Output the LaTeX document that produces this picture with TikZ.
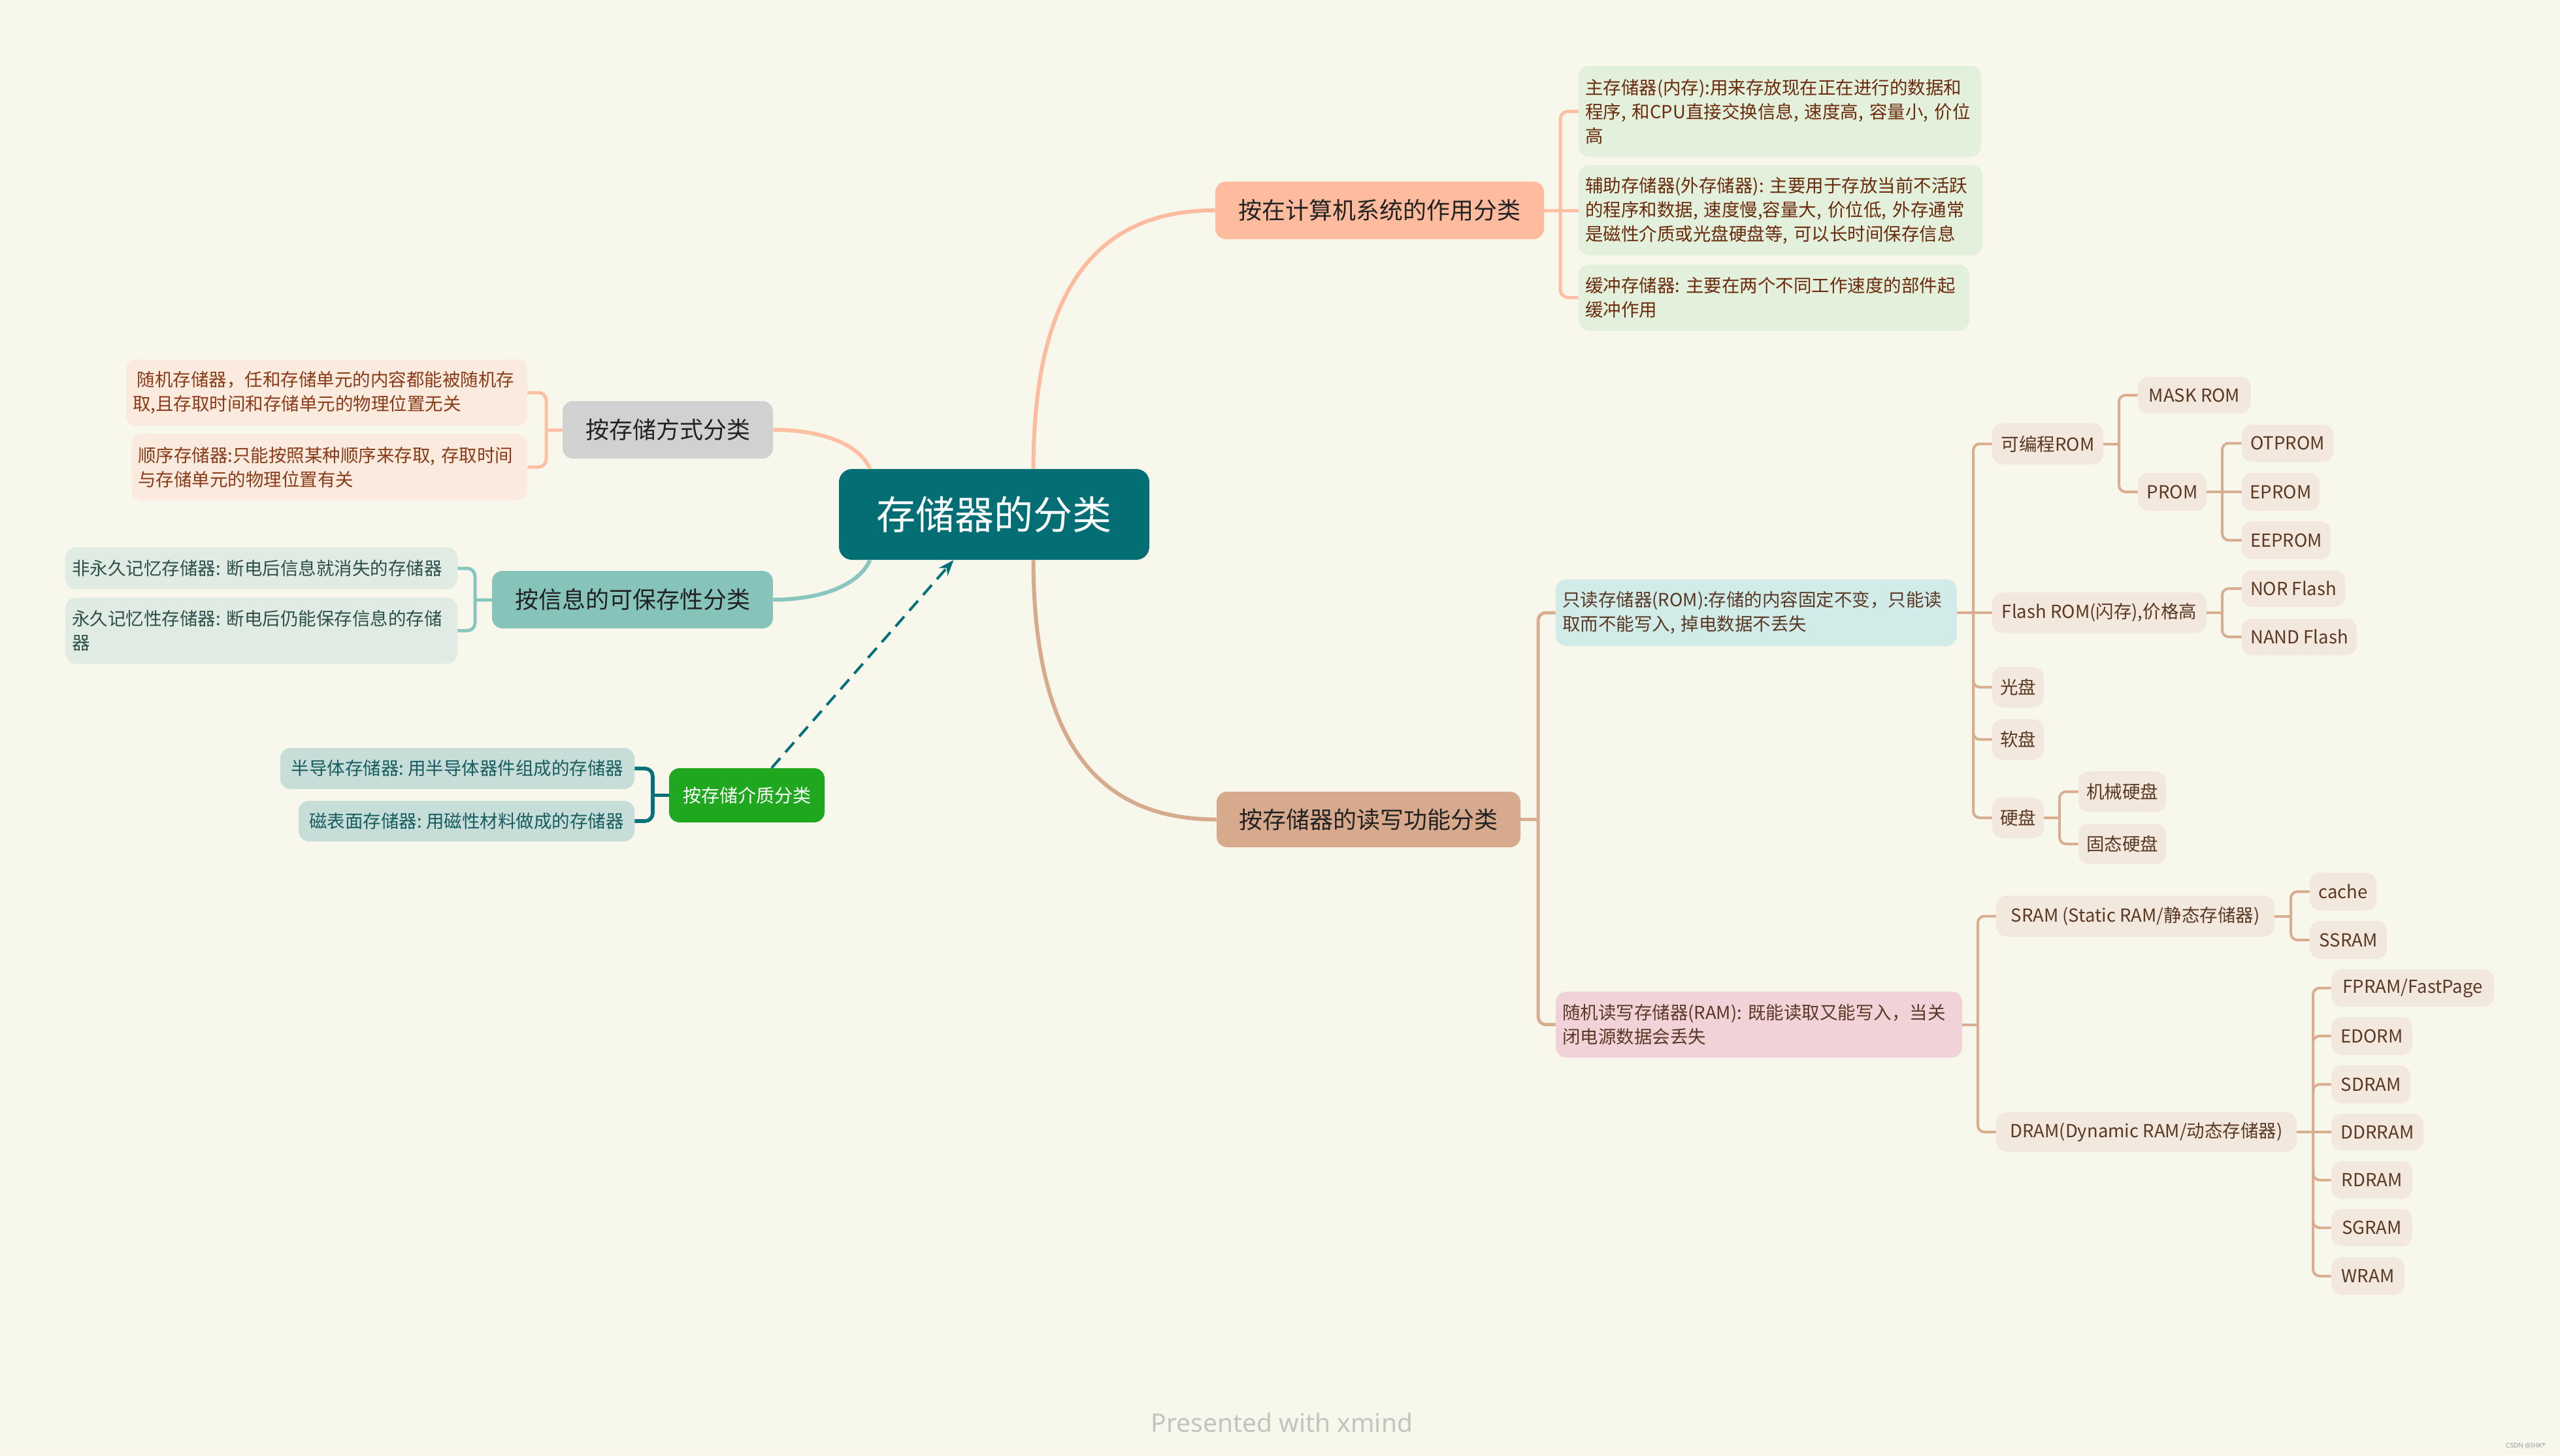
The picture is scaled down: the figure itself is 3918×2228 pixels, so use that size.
\documentclass[tikz,border=0pt]{standalone}
\usepackage{fontspec}
\setmainfont{Noto Sans CJK SC}
\newfontfamily\wmfont{Noto Sans}
\usetikzlibrary{arrows.meta}
\definecolor{bgc}{HTML}{F8F7EC}
\definecolor{cenc}{HTML}{046E75}
\definecolor{brAc}{HTML}{FFBB9E}
\definecolor{brBc}{HTML}{D1D1D1}
\definecolor{brCc}{HTML}{85C3BB}
\definecolor{brDc}{HTML}{1FA71F}
\definecolor{brEc}{HTML}{D8AA8D}
\definecolor{lnAc}{HTML}{FFBFA3}
\definecolor{lnCc}{HTML}{88C6BF}
\definecolor{lnDc}{HTML}{04707A}
\definecolor{lnEc}{HTML}{D8AD90}
\definecolor{lfA}{HTML}{E2F0DC}
\definecolor{txA}{HTML}{6B2A0C}
\definecolor{lfB}{HTML}{FBEBDF}
\definecolor{txB}{HTML}{8B3A17}
\definecolor{lfC}{HTML}{E0EBE4}
\definecolor{txC}{HTML}{2C4F4A}
\definecolor{lfD}{HTML}{C6DDD8}
\definecolor{txD}{HTML}{175C61}
\definecolor{lfROM}{HTML}{D0EBE8}
\definecolor{lfRAM}{HTML}{F1D2D8}
\definecolor{lfE}{HTML}{F2E8DD}
\definecolor{txE}{HTML}{5A3823}
\definecolor{brtext}{HTML}{222222}
\definecolor{wmc}{HTML}{C4C4BC}
\newcommand\mmbox[7]{\node[#6, minimum width={(#4-#2)*0.5pt}, minimum height={(#5-#3)*0.5pt}] (#1) at ({(#2+#4)/2},{(#3+#5)/2}) {#7};}
\newcommand\mmleaf[7]{\node[#6, text width={(#4-#2-20)*0.5pt}, minimum width={(#4-#2)*0.5pt}, minimum height={(#5-#3)*0.5pt}] (#1) at ({(#2+#4)/2},{(#3+#5)/2}) {#7};}
\tikzset{
  cen/.style={fill=cenc, rounded corners=10pt, text=white, inner sep=0pt, font=\fontsize{30}{36}\selectfont},
  topic/.style={rounded corners=8pt, inner sep=0pt, text=brtext, font=\fontsize{18}{22}\selectfont},
  leaf/.style={rounded corners=8pt, inner sep=0pt, align=left, font=\fontsize{13.75}{18.5}\selectfont},
  sub/.style={rounded corners=8pt, inner sep=0pt, fill=lfE, text=txE, font=\fontsize{13.75}{18}\selectfont},
  lnA/.style={draw=lnAc, line width=2.5pt, rounded corners=6pt},
  lnC/.style={draw=lnCc, line width=2.5pt, rounded corners=6pt},
  lnD/.style={draw=lnDc, line width=2.8pt, rounded corners=6pt},
  lnE/.style={draw=lnEc, line width=2.5pt, rounded corners=6pt},
  lnEs/.style={draw=lnEc, line width=2pt, rounded corners=5pt},
  curve/.style={line width=3pt},
}
\begin{document}
\begin{tikzpicture}[x=0.5pt,y=-0.5pt]
\fill[bgc] (0,0) rectangle (3918,2228);
\useasboundingbox (0,0) rectangle (3918,2228);

% central
\mmbox{cen}{1284}{718}{1759}{857}{cen}{存储器的分类}

% main topics
\mmbox{A}{1860}{278}{2363}{366}{topic, fill=brAc}{按在计算机系统的作用分类}
\mmbox{B}{861}{614}{1183}{702}{topic, fill=brBc}{按存储方式分类}
\mmbox{C}{753}{874}{1183}{962}{topic, fill=brCc}{按信息的可保存性分类}
\mmbox{D}{1024}{1176}{1262}{1259}{topic, fill=brDc, text=white, font=\fontsize{14}{18}\selectfont}{按存储介质分类}
\mmbox{E}{1862}{1212}{2327}{1297}{topic, fill=brEc}{按存储器的读写功能分类}

% A leaves
\mmleaf{A1}{2416}{101}{3032}{240}{leaf, fill=lfA, text=txA}{主存储器(内存):用来存放现在正在进行的数据和\\程序,~和CPU直接交换信息,~速度高,~容量小,~价位\\高}
\mmleaf{A2}{2416}{253}{3034}{391}{leaf, fill=lfA, text=txA}{辅助存储器(外存储器):~主要用于存放当前不活跃\\的程序和数据,~速度慢,容量大,~价位低,~外存通常\\是磁性介质或光盘硬盘等,~可以长时间保存信息}
\mmleaf{A3}{2416}{405}{3014}{506}{leaf, fill=lfA, text=txA}{缓冲存储器:~主要在两个不同工作速度的部件起\\缓冲作用}

% B leaves
\mmleaf{B1}{193}{550}{807}{652}{leaf, fill=lfB, text=txB}{\hspace*{0.25em}随机存储器，任和存储单元的内容都能被随机存\\取,且存取时间和存储单元的物理位置无关}
\mmleaf{B2}{201}{664}{807}{766}{leaf, fill=lfB, text=txB}{顺序存储器:只能按照某种顺序来存取,~存取时间\\与存储单元的物理位置有关}

% C leaves
\mmleaf{C1}{100}{838}{700}{902}{leaf, fill=lfC, text=txC}{非永久记忆存储器:~断电后信息就消失的存储器}
\mmleaf{C2}{100}{915}{700}{1016}{leaf, fill=lfC, text=txC}{永久记忆性存储器:~断电后仍能保存信息的存储\\器}

% D leaves
\mmbox{D1}{429}{1145}{971}{1208}{leaf, fill=lfD, text=txD}{半导体存储器:~用半导体器件组成的存储器}
\mmbox{D2}{457}{1226}{971}{1288}{leaf, fill=lfD, text=txD}{磁表面存储器:~用磁性材料做成的存储器}

% E children
\mmleaf{E1}{2381}{887}{2995}{989}{leaf, fill=lfROM, text=txE}{只读存储器(ROM):存储的内容固定不变，只能读\\取而不能写入,~掉电数据不丢失}
\mmleaf{E2}{2381}{1518}{3003}{1619}{leaf, fill=lfRAM, text=txE}{随机读写存储器(RAM):~既能读取又能写入，当关\\闭电源数据会丢失}

% ROM children
\mmbox{R1}{3049}{648}{3219}{711}{sub}{可编程ROM}
\mmbox{R2}{3049}{907}{3377}{969}{sub}{Flash ROM(闪存),价格高}
\mmbox{R3}{3049}{1021}{3128}{1083}{sub}{光盘}
\mmbox{R4}{3049}{1101}{3128}{1163}{sub}{软盘}
\mmbox{R5}{3049}{1221}{3128}{1283}{sub}{硬盘}
\mmbox{R11}{3272}{577}{3445}{633}{sub}{MASK ROM}
\mmbox{R12}{3272}{724}{3377}{782}{sub}{PROM}
\mmbox{R121}{3431}{650}{3571}{707}{sub}{OTPROM}
\mmbox{R122}{3431}{724}{3550}{782}{sub}{EPROM}
\mmbox{R123}{3431}{798}{3567}{856}{sub}{EEPROM}
\mmbox{R21}{3431}{873}{3589}{929}{sub}{NOR Flash}
\mmbox{R22}{3431}{947}{3607}{1003}{sub}{NAND Flash}
\mmbox{R51}{3181}{1181}{3315}{1243}{sub}{机械硬盘}
\mmbox{R52}{3181}{1261}{3315}{1323}{sub}{固态硬盘}

% RAM children
\mmbox{M1}{3055}{1371}{3481}{1434}{sub}{SRAM (Static RAM/静态存储器)}
\mmbox{M2}{3055}{1703}{3515}{1763}{sub}{DRAM(Dynamic RAM/动态存储器)}
\mmbox{M11}{3535}{1336}{3637}{1394}{sub}{cache}
\mmbox{M12}{3535}{1410}{3653}{1468}{sub}{SSRAM}
\mmbox{M21}{3568}{1484}{3817}{1541}{sub}{FPRAM/FastPage}
\mmbox{M22}{3568}{1557}{3692}{1615}{sub}{EDORM}
\mmbox{M23}{3568}{1631}{3689}{1689}{sub}{SDRAM}
\mmbox{M24}{3568}{1705}{3709}{1761}{sub}{DDRRAM}
\mmbox{M25}{3568}{1778}{3692}{1835}{sub}{RDRAM}
\mmbox{M26}{3568}{1851}{3692}{1908}{sub}{SGRAM}
\mmbox{M27}{3568}{1925}{3680}{1982}{sub}{WRAM}

% spine coordinates
\coordinate (sA) at (2388,0);
\coordinate (sB) at (836,0);
\coordinate (sC) at (727,0);
\coordinate (sD) at (999,0);
\coordinate (sE) at (2354,0);
\coordinate (sR) at (3020,0);
\coordinate (sR1) at (3243,0);
\coordinate (sR12) at (3401,0);
\coordinate (sR2) at (3401,0);
\coordinate (sR5) at (3152,0);
\coordinate (sM) at (3027,0);
\coordinate (sM1) at (3506,0);
\coordinate (sM2) at (3540,0);

% main curves
\draw[curve, draw=brAc] ([xshift=30pt]cen.north) .. controls (1582,440) and (1680,322) .. (A.west);
\draw[curve, draw=brEc] ([xshift=30pt]cen.south) .. controls (1582,1135) and (1680,1254.5) .. (E.west);
\draw[curve, draw=lnAc] ([xshift=-95pt]cen.north) .. controls (1316,682) and (1262,658) .. (B.east);
\draw[curve, draw=lnCc] ([xshift=-95pt]cen.south) .. controls (1316,893) and (1262,918) .. (C.east);
\draw[lnDc, line width=2pt, dash pattern=on 10pt off 6pt, -{Stealth[length=12pt, width=9pt]}] ([xshift=19pt]D.north) -- ([xshift=-31pt]cen.south);

% A group
\draw[lnA] (A.east) -- (A2.west);
\foreach \c in {A1,A3} \draw[lnA] (A.east -| sA) |- (\c.west);
% B group
\draw[lnA] (B.west) -- (B.west -| sB);
\foreach \c in {B1,B2} \draw[lnA] (B.west -| sB) |- (\c.east);
% C group
\draw[lnC] (C.west) -- (C.west -| sC);
\foreach \c in {C1,C2} \draw[lnC] (C.west -| sC) |- (\c.east);
% D group
\draw[lnD] (D.west) -- (D.west -| sD);
\foreach \c in {D1,D2} \draw[lnD] (D.west -| sD) |- (\c.east);
% E group
\draw[lnE] (E.east) -- (E.east -| sE);
\foreach \c in {E1,E2} \draw[lnE] (E.east -| sE) |- (\c.west);
% ROM
\draw[lnEs] (E1.east) -- (R2.west);
\foreach \c in {R1,R3,R4,R5} \draw[lnEs] (E1.east -| sR) |- (\c.west);
\draw[lnEs] (R1.east) -- (R1.east -| sR1);
\foreach \c in {R11,R12} \draw[lnEs] (R1.east -| sR1) |- (\c.west);
\draw[lnEs] (R12.east) -- (R122.west);
\foreach \c in {R121,R123} \draw[lnEs] (R12.east -| sR12) |- (\c.west);
\draw[lnEs] (R2.east) -- (R2.east -| sR2);
\foreach \c in {R21,R22} \draw[lnEs] (R2.east -| sR2) |- (\c.west);
\draw[lnEs] (R5.east) -- (R5.east -| sR5);
\foreach \c in {R51,R52} \draw[lnEs] (R5.east -| sR5) |- (\c.west);
% RAM
\draw[lnEs] (E2.east) -- (E2.east -| sM);
\foreach \c in {M1,M2} \draw[lnEs] (E2.east -| sM) |- (\c.west);
\draw[lnEs] (M1.east) -- (M1.east -| sM1);
\foreach \c in {M11,M12} \draw[lnEs] (M1.east -| sM1) |- (\c.west);
\draw[lnEs] (M2.east) -- (M24.west);
\foreach \c in {M21,M22,M23,M25,M26,M27} \draw[lnEs] (M2.east -| sM2) |- (\c.west);

% watermarks
\node[anchor=base, text=wmc, font=\wmfont\fontsize{19.5}{23}\selectfont] (wm) at (1962,2192) {Presented with {\bfseries xmind}};
\node[anchor=base east, text=gray!80, font=\wmfont\fontsize{5}{6}\selectfont] (wm2) at (3903,2216) {CSDN @IHK*};
\end{tikzpicture}
\end{document}
